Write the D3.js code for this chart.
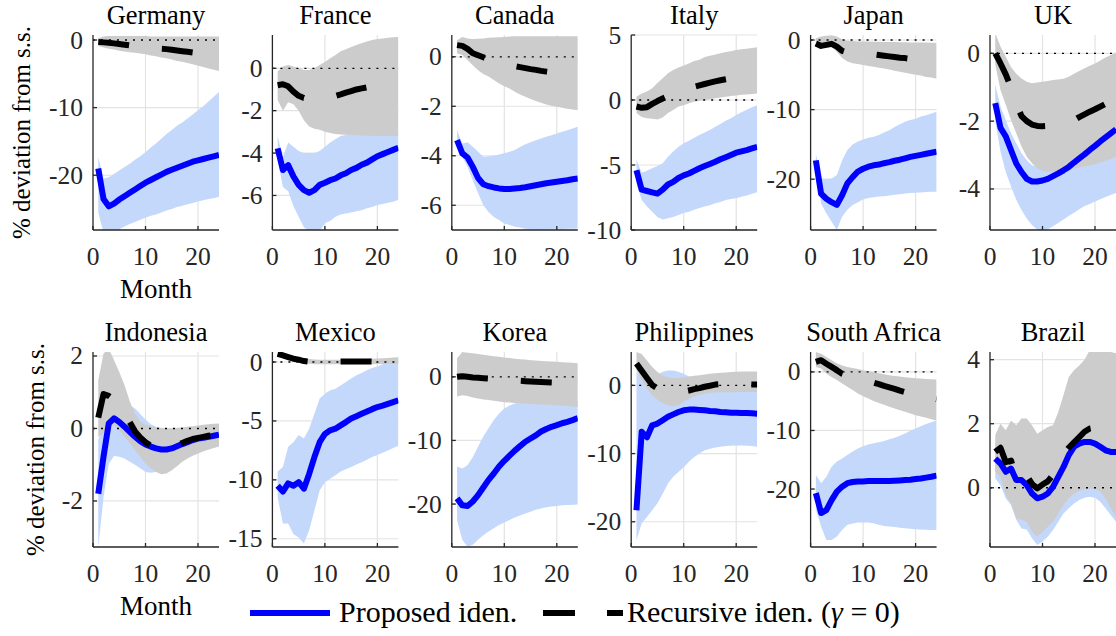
<!DOCTYPE html>
<html>
<head>
<meta charset="utf-8">
<script src="https://cdn.jsdelivr.net/npm/d3@7"></script>
<style>
  html, body { margin: 0; padding: 0; background: #ffffff; }
  svg { display: block; }
</style>
</head>
<body>
<svg id="chart" width="1116" height="636"></svg>
<script>
// Impulse responses (% deviation from steady state), months 1..24
const months = [1,2,3,4,5,6,7,8,9,10,11,12,13,14,15,16,17,18,19,20,21,22,23,24];

const countries = ["Germany", "France", "Canada", "Italy", "Japan", "UK",
                   "Indonesia", "Mexico", "Korea", "Philippines", "South Africa", "Brazil"];

const yLimits = [
  [-28.1, 0.74], [-7.63, 1.57], [-7.0, 0.88], [-10, 5], [-27.3, 0.72], [-5.21, 0.54],
  [-3.27, 2.11], [-15.7, 0.85], [-26.75, 3.9], [-23.7, 4.9], [-29.9, 3.4], [-1.85, 4.24]
];

const yTickValues = [
  [0, -10, -20], [0, -2, -4, -6], [0, -2, -4, -6], [5, 0, -5, -10], [0, -10, -20], [0, -2, -4],
  [2, 0, -2], [0, -5, -10, -15], [0, -10, -20], [0, -10, -20], [0, -10, -20], [4, 2, 0]
];

const xTickValues = [0, 10, 20];

// Proposed identification: point estimate
const proposed = [
  [-19.0,-23.5,-24.6,-24.2,-23.6,-23.1,-22.6,-22.1,-21.6,-21.1,-20.7,-20.3,-19.9,-19.5,-19.2,-18.9,-18.6,-18.3,-18.0,-17.8,-17.6,-17.4,-17.2,-17.0],
  [-3.78,-4.8,-4.57,-5.1,-5.5,-5.75,-5.87,-5.75,-5.5,-5.4,-5.28,-5.2,-5.05,-4.95,-4.8,-4.7,-4.55,-4.45,-4.3,-4.15,-4.05,-3.95,-3.85,-3.75],
  [-3.37,-3.9,-4.07,-4.45,-4.9,-5.15,-5.23,-5.28,-5.32,-5.34,-5.34,-5.32,-5.3,-5.27,-5.23,-5.19,-5.15,-5.11,-5.08,-5.05,-5.02,-4.99,-4.95,-4.92],
  [-5.4,-6.9,-7.0,-7.1,-7.2,-6.9,-6.5,-6.3,-6.0,-5.8,-5.65,-5.45,-5.25,-5.08,-4.92,-4.75,-4.56,-4.4,-4.23,-4.05,-3.95,-3.85,-3.72,-3.6],
  [-17.3,-22.1,-22.8,-23.3,-23.7,-22.3,-20.6,-19.7,-18.9,-18.5,-18.2,-18.0,-17.9,-17.7,-17.55,-17.35,-17.2,-17.0,-16.8,-16.65,-16.5,-16.35,-16.2,-16.05],
  [-1.47,-2.2,-2.45,-2.85,-3.25,-3.5,-3.7,-3.78,-3.78,-3.75,-3.7,-3.62,-3.54,-3.45,-3.35,-3.22,-3.1,-2.98,-2.85,-2.73,-2.6,-2.48,-2.36,-2.24],
  [-1.8,-0.78,0.14,0.28,0.18,0.05,-0.09,-0.23,-0.35,-0.44,-0.5,-0.55,-0.58,-0.58,-0.55,-0.49,-0.43,-0.38,-0.32,-0.28,-0.26,-0.23,-0.2,-0.17],
  [-10.5,-11.0,-10.3,-10.5,-10.2,-10.75,-9.5,-8.07,-6.8,-6.1,-5.8,-5.66,-5.38,-5.1,-4.8,-4.6,-4.4,-4.2,-4.0,-3.82,-3.7,-3.55,-3.4,-3.25],
  [-19.1,-20.2,-20.3,-19.6,-18.6,-17.4,-16.2,-15.2,-14.1,-13.2,-12.4,-11.6,-10.9,-10.2,-9.7,-9.2,-8.6,-8.2,-7.85,-7.6,-7.3,-7.07,-6.8,-6.5],
  [-18.3,-6.8,-7.6,-5.85,-5.6,-5.1,-4.6,-4.25,-3.9,-3.65,-3.55,-3.55,-3.6,-3.65,-3.75,-3.8,-3.9,-3.95,-4.0,-4.02,-4.04,-4.05,-4.1,-4.15],
  [-20.7,-24.1,-23.6,-21.9,-20.45,-19.6,-19.0,-18.8,-18.7,-18.7,-18.64,-18.64,-18.64,-18.64,-18.62,-18.58,-18.53,-18.47,-18.4,-18.3,-18.2,-18.05,-17.9,-17.7],
  [0.91,0.76,0.5,0.6,0.24,0.24,0.08,-0.18,-0.33,-0.28,-0.18,0.03,0.34,0.65,1.02,1.28,1.38,1.43,1.43,1.38,1.28,1.17,1.12,1.12]
];

// Proposed identification: upper band
const proposedHi = [
  [-17.3,-20.5,-20.3,-19.8,-19.3,-18.8,-18.3,-17.7,-17.2,-16.6,-15.9,-15.3,-14.6,-13.9,-13.3,-12.7,-12.2,-11.6,-11.0,-10.4,-9.8,-9.1,-8.4,-7.7],
  [-3.2,-4.2,-3.5,-3.7,-3.9,-4.0,-4.0,-4.0,-3.9,-3.7,-3.5,-3.35,-3.2,-3.15,-3.1,-3.1,-3.1,-3.05,-3.05,-3.0,-3.0,-3.0,-3.0,-3.0],
  [-2.97,-3.5,-3.45,-3.64,-3.84,-4.04,-4.02,-4.0,-3.95,-3.9,-3.84,-3.77,-3.65,-3.53,-3.45,-3.37,-3.3,-3.23,-3.17,-3.1,-3.03,-2.97,-2.9,-2.83],
  [-4.6,-5.6,-5.45,-5.25,-5.08,-4.87,-4.36,-3.97,-3.6,-3.33,-3.13,-2.9,-2.7,-2.5,-2.3,-2.05,-1.85,-1.6,-1.4,-1.15,-0.95,-0.75,-0.55,-0.4],
  [-16.3,-19.9,-20.0,-19.9,-19.4,-17.3,-15.8,-15.0,-14.6,-14.3,-14.05,-13.9,-13.65,-13.3,-12.95,-12.5,-12.1,-11.75,-11.5,-11.3,-11.0,-10.8,-10.55,-10.3],
  [-0.93,-1.57,-1.97,-2.36,-2.65,-2.95,-3.15,-3.3,-3.34,-3.4,-3.35,-3.3,-3.2,-3.1,-2.95,-2.8,-2.65,-2.5,-2.35,-2.2,-2.05,-1.9,-1.75,-1.6],
  [-0.32,0.23,0.78,0.87,0.8,0.72,0.65,0.55,0.4,0.25,0.12,0.05,0.0,0.0,0.0,0.0,0.02,0.03,0.04,0.05,0.06,0.07,0.08,0.08],
  [-9.3,-8.9,-7.2,-6.8,-6.2,-6.5,-5.66,-4.4,-3.1,-2.7,-2.4,-2.26,-2.0,-1.7,-1.4,-1.13,-0.93,-0.7,-0.5,-0.37,-0.2,0.0,0.2,0.4],
  [-14.1,-14.4,-13.9,-12.6,-11.0,-9.4,-8.1,-6.8,-5.76,-5.0,-4.5,-4.2,-4.0,-3.9,-3.8,-3.8,-3.8,-3.8,-3.8,-3.8,-3.8,-3.8,-3.8,-3.8],
  [2.0,1.0,0.8,1.2,1.6,2.0,2.2,2.2,2.0,1.7,1.3,0.9,0.5,0.2,0.0,-0.1,-0.2,-0.2,-0.2,-0.2,-0.2,-0.2,-0.2,-0.2],
  [-17.6,-19.0,-17.9,-16.2,-15.3,-14.8,-14.2,-13.6,-13.1,-12.7,-12.4,-12.2,-12.0,-11.8,-11.5,-11.25,-10.9,-10.5,-10.05,-9.66,-9.26,-8.9,-8.6,-8.24],
  [1.4,1.3,1.1,1.2,0.9,0.9,0.8,0.7,0.5,0.5,0.6,0.8,1.1,1.4,1.7,2.0,2.2,2.3,2.4,2.4,2.3,2.2,2.1,2.0]
];

// Proposed identification: lower band
const proposedLo = [
  [-25.5,-28.5,-28.8,-28.5,-28.0,-27.6,-27.2,-26.9,-26.6,-26.3,-26.0,-25.8,-25.5,-25.2,-25.0,-24.7,-24.5,-24.3,-24.1,-23.9,-23.7,-23.5,-23.4,-23.2],
  [-4.3,-5.6,-5.8,-6.5,-7.0,-7.5,-7.7,-7.8,-7.7,-7.3,-7.2,-7.0,-6.9,-6.85,-6.8,-6.75,-6.7,-6.6,-6.55,-6.45,-6.4,-6.35,-6.3,-6.2],
  [-3.5,-4.04,-4.45,-5.0,-5.5,-6.0,-6.27,-6.47,-6.6,-6.74,-6.8,-6.87,-6.9,-6.95,-6.97,-6.98,-6.98,-6.98,-6.97,-6.97,-6.96,-6.95,-6.95,-6.94],
  [-6.4,-7.7,-8.2,-8.6,-9.0,-9.2,-9.1,-9.0,-8.85,-8.7,-8.6,-8.45,-8.3,-8.2,-8.1,-7.95,-7.85,-7.7,-7.62,-7.55,-7.45,-7.35,-7.22,-7.1],
  [-18.2,-23.5,-24.9,-26.1,-27.3,-25.4,-24.4,-23.7,-23.3,-22.9,-22.7,-22.6,-22.5,-22.45,-22.35,-22.25,-22.15,-22.05,-22.0,-21.95,-21.9,-21.85,-21.82,-21.8],
  [-2.0,-2.9,-3.5,-3.93,-4.32,-4.62,-4.87,-5.06,-5.2,-5.23,-5.19,-5.1,-5.0,-4.9,-4.8,-4.7,-4.6,-4.5,-4.44,-4.37,-4.3,-4.24,-4.18,-4.12],
  [-3.3,-1.9,-0.97,-0.76,-0.78,-0.83,-0.92,-1.0,-1.1,-1.2,-1.22,-1.2,-1.15,-1.1,-1.02,-0.95,-0.87,-0.8,-0.74,-0.68,-0.63,-0.58,-0.54,-0.5],
  [-11.5,-13.7,-13.7,-14.6,-14.9,-15.4,-14.3,-12.6,-10.9,-10.2,-9.9,-9.6,-9.3,-9.1,-8.9,-8.7,-8.5,-8.3,-8.07,-7.9,-7.7,-7.5,-7.3,-7.1],
  [-22.5,-25.6,-26.7,-26.4,-25.6,-24.9,-24.3,-23.8,-23.3,-22.9,-22.5,-22.1,-21.8,-21.5,-21.2,-20.9,-20.7,-20.5,-20.4,-20.3,-20.2,-20.15,-20.1,-20.0],
  [-22.7,-20.2,-19.3,-18.3,-17.3,-15.9,-14.4,-13.4,-12.7,-12.0,-11.2,-10.5,-10.0,-9.5,-9.3,-9.1,-9.0,-8.9,-8.85,-8.8,-8.8,-8.85,-8.9,-9.0],
  [-23.5,-26.4,-28.7,-28.7,-28.1,-27.0,-26.1,-25.9,-25.7,-25.7,-25.7,-25.85,-26.1,-26.3,-26.4,-26.5,-26.6,-26.7,-26.8,-26.85,-26.9,-26.95,-27.0,-27.0],
  [0.29,0.08,-0.33,-0.54,-1.0,-1.27,-1.3,-1.58,-1.79,-1.68,-1.53,-1.32,-1.06,-0.8,-0.64,-0.49,-0.38,-0.31,-0.28,-0.31,-0.44,-0.64,-0.85,-1.06]
];

// Recursive identification (gamma = 0): point estimate
const recursive = [
  [-0.3,-0.35,-0.4,-0.5,-0.6,-0.7,-0.8,-0.9,-1.0,-1.05,-1.1,-1.2,-1.3,-1.35,-1.45,-1.55,-1.65,-1.75,-1.85,-1.95,-2.05,-2.15,-2.25,-2.35],
  [-0.8,-0.75,-0.85,-1.1,-1.3,-1.4,-1.45,-1.45,-1.45,-1.42,-1.38,-1.3,-1.23,-1.15,-1.08,-1.0,-0.95,-0.9,-0.88,-0.85,-0.83,-0.81,-0.8,-0.79],
  [0.47,0.44,0.32,0.14,0.06,-0.02,-0.1,-0.16,-0.22,-0.28,-0.33,-0.38,-0.42,-0.46,-0.5,-0.53,-0.57,-0.6,-0.63,-0.66,-0.69,-0.72,-0.75,-0.78],
  [-0.5,-0.6,-0.55,-0.3,-0.08,0.12,0.3,0.48,0.63,0.77,0.9,1.02,1.13,1.23,1.33,1.43,1.52,1.6,1.67,1.73,1.78,1.83,1.87,1.9],
  [-0.5,-0.85,-0.7,-0.55,-0.95,-1.55,-1.8,-1.85,-1.9,-1.95,-2.0,-2.05,-2.15,-2.25,-2.35,-2.45,-2.55,-2.6,-2.7,-2.8,-2.85,-2.95,-3.0,-3.1],
  [0.0,-0.3,-0.62,-1.0,-1.48,-1.85,-2.0,-2.1,-2.14,-2.15,-2.14,-2.12,-2.08,-2.05,-2.01,-1.97,-1.88,-1.8,-1.72,-1.65,-1.57,-1.49,-1.42,-1.35],
  [0.3,0.95,0.9,0.8,0.65,0.42,0.17,-0.08,-0.25,-0.38,-0.48,-0.55,-0.6,-0.58,-0.52,-0.46,-0.4,-0.34,-0.29,-0.26,-0.23,-0.2,-0.18,-0.16],
  [0.7,0.57,0.42,0.28,0.2,0.08,0.03,0.02,0.02,0.03,0.03,0.04,0.05,0.05,0.05,0.05,0.05,0.05,0.04,0.04,0.03,0.03,0.02,0.02],
  [0.0,0.1,0.0,-0.1,-0.15,-0.22,-0.28,-0.34,-0.4,-0.45,-0.52,-0.58,-0.63,-0.68,-0.73,-0.78,-0.82,-0.86,-0.9,-0.94,-0.98,-1.02,-1.06,-1.1],
  [3.2,2.15,1.1,0.05,-0.45,-0.7,-0.85,-0.95,-0.95,-0.9,-0.75,-0.55,-0.4,-0.2,-0.05,0.12,0.2,0.22,0.22,0.2,0.18,0.16,0.15,0.15],
  [1.7,2.0,1.4,0.85,0.3,-0.3,-0.6,-0.85,-1.1,-1.35,-1.6,-1.85,-2.1,-2.4,-2.65,-2.9,-3.2,-3.45,-3.65,-3.85,-4.05,-4.25,-4.45,-4.65],
  [1.12,1.25,0.8,0.85,0.35,0.55,0.38,0.12,-0.02,0.1,0.2,0.4,0.72,1.05,1.25,1.42,1.58,1.75,1.85,1.88,1.9,1.92,1.93,1.94]
];

// Recursive identification: upper band
const recursiveHi = [
  [0.3,0.5,0.6,0.6,0.6,0.6,0.6,0.6,0.6,0.6,0.5,0.5,0.5,0.5,0.5,0.5,0.5,0.5,0.5,0.5,0.5,0.5,0.5,0.5],
  [-0.15,0.08,0.15,0.08,0.0,-0.08,-0.08,0.0,0.15,0.3,0.47,0.63,0.8,0.9,1.0,1.1,1.18,1.26,1.34,1.38,1.41,1.44,1.46,1.48],
  [0.67,0.8,0.74,0.72,0.73,0.74,0.77,0.78,0.79,0.8,0.82,0.83,0.83,0.83,0.83,0.83,0.83,0.83,0.83,0.83,0.83,0.83,0.83,0.83],
  [0.25,0.5,0.65,0.9,1.3,1.67,2.05,2.3,2.5,2.65,2.8,3.0,3.1,3.3,3.4,3.5,3.6,3.7,3.75,3.85,3.9,3.95,4.0,4.05],
  [0.25,0.5,0.6,0.7,0.5,0.1,-0.1,-0.15,-0.2,-0.2,-0.22,-0.24,-0.26,-0.28,-0.3,-0.3,-0.32,-0.33,-0.34,-0.35,-0.36,-0.37,-0.38,-0.4],
  [0.6,0.2,-0.1,-0.4,-0.6,-0.74,-0.84,-0.88,-0.86,-0.84,-0.82,-0.79,-0.77,-0.75,-0.69,-0.6,-0.52,-0.44,-0.37,-0.3,-0.21,-0.12,-0.05,0.02],
  [1.33,2.07,2.2,1.89,1.56,1.2,0.75,0.4,0.2,0.1,0.06,0.03,0.02,0.0,0.0,0.02,0.03,0.05,0.06,0.08,0.1,0.12,0.13,0.14],
  [0.9,0.8,0.65,0.5,0.4,0.3,0.25,0.22,0.2,0.2,0.2,0.2,0.2,0.2,0.2,0.22,0.24,0.26,0.28,0.3,0.32,0.35,0.38,0.4],
  [2.9,3.9,3.8,3.7,3.6,3.45,3.35,3.25,3.15,3.04,2.94,2.83,2.78,2.72,2.62,2.56,2.5,2.45,2.4,2.35,2.3,2.25,2.2,2.15],
  [4.9,4.6,3.66,2.7,1.95,1.46,1.2,1.07,1.07,1.2,1.3,1.4,1.5,1.6,1.7,1.78,1.85,1.9,1.95,2.0,2.05,2.05,2.05,2.05],
  [3.4,3.1,2.55,2.0,1.5,1.1,0.85,0.68,0.5,0.28,0.1,-0.05,-0.23,-0.4,-0.57,-0.7,-0.8,-0.9,-1.0,-1.07,-1.14,-1.2,-1.25,-1.3],
  [1.65,2.0,1.8,2.1,1.95,2.16,2.16,1.95,1.69,1.8,1.9,1.95,2.37,2.9,3.46,3.67,3.82,4.0,4.3,4.3,4.24,4.24,4.24,4.2]
];

// Recursive identification: lower band
const recursiveLo = [
  [-0.9,-1.1,-1.3,-1.4,-1.6,-1.7,-1.8,-1.9,-2.0,-2.1,-2.3,-2.4,-2.6,-2.7,-2.9,-3.1,-3.2,-3.4,-3.6,-3.8,-4.0,-4.2,-4.4,-4.6],
  [-1.5,-2.0,-1.6,-1.7,-2.0,-2.45,-2.75,-2.85,-2.9,-3.0,-3.05,-3.1,-3.12,-3.14,-3.15,-3.16,-3.17,-3.18,-3.18,-3.19,-3.19,-3.2,-3.2,-3.2],
  [0.13,0.07,-0.13,-0.34,-0.54,-0.7,-0.8,-0.94,-1.08,-1.19,-1.28,-1.41,-1.52,-1.62,-1.71,-1.79,-1.86,-1.93,-1.98,-2.02,-2.06,-2.1,-2.13,-2.16],
  [-1.0,-1.3,-1.4,-1.45,-1.5,-1.35,-1.0,-0.77,-0.5,-0.4,-0.25,-0.13,-0.06,0.0,0.05,0.13,0.2,0.25,0.3,0.35,0.4,0.43,0.47,0.5],
  [-0.7,-1.0,-1.1,-1.0,-1.7,-2.6,-3.1,-3.35,-3.45,-3.6,-3.75,-3.85,-4.0,-4.1,-4.25,-4.4,-4.55,-4.7,-4.85,-5.0,-5.1,-5.3,-5.4,-5.55],
  [-0.34,-1.08,-1.52,-1.97,-2.36,-2.75,-3.05,-3.24,-3.39,-3.46,-3.49,-3.49,-3.47,-3.44,-3.42,-3.4,-3.37,-3.34,-3.31,-3.27,-3.22,-3.17,-3.12,-3.05],
  [-0.23,-0.14,0.05,0.09,-0.05,-0.23,-0.41,-0.6,-0.78,-0.97,-1.1,-1.2,-1.26,-1.24,-1.15,-1.04,-0.92,-0.83,-0.75,-0.69,-0.63,-0.58,-0.53,-0.49],
  [0.5,0.35,0.2,0.08,0.0,-0.1,-0.15,-0.18,-0.2,-0.2,-0.2,-0.2,-0.2,-0.2,-0.2,-0.2,-0.2,-0.18,-0.18,-0.16,-0.16,-0.15,-0.15,-0.14],
  [-3.1,-2.9,-3.0,-3.25,-3.4,-3.55,-3.66,-3.77,-3.87,-4.0,-4.05,-4.1,-4.15,-4.2,-4.25,-4.3,-4.35,-4.4,-4.45,-4.5,-4.55,-4.6,-4.65,-4.7],
  [2.2,0.73,-0.5,-1.46,-2.1,-2.6,-2.9,-3.07,-2.9,-2.44,-1.95,-1.6,-1.37,-1.2,-1.1,-1.05,-1.0,-1.0,-1.0,-1.0,-0.98,-0.98,-0.98,-0.98],
  [0.85,0.57,-0.28,-0.85,-1.4,-2.0,-2.55,-3.1,-3.7,-4.15,-4.55,-4.95,-5.3,-5.6,-5.97,-6.25,-6.53,-6.8,-7.1,-7.4,-7.6,-7.84,-8.07,-8.3],
  [0.5,0.34,-0.23,-0.49,-0.96,-1.0,-1.06,-1.37,-1.53,-1.37,-1.22,-1.06,-0.8,-0.54,-0.33,-0.18,-0.1,-0.04,-0.02,-0.04,-0.12,-0.33,-0.64,-0.9]
];

const legendLabels = ["Proposed iden.", "Recursive iden."];

// ---------------------------------------------------------------------------
const FONT = "'Liberation Serif', 'DejaVu Serif', serif";
const BASE = 25;   // text is set at this size and scaled where a different size is wanted
const svg = d3.select("#chart").attr("font-family", FONT);

const panelW = 126, panelH = 195;
const colX0 = 93, colStep = 179.4;
const rowTops = [35, 352];
const ylabelX = [30, 44];

const colors = {
  blue: "#0000ff",
  blueBand: "#c4d8fb",
  greyBand: "#cccccc",
  grid: "#e3e3e3",
  axis: "#262626"
};

const sizeTick = 25.5, sizeTitle = 26.5, sizeLabel = 25, sizeMonth = 27, sizeLegend = 30;

// place a text at (x, y) with the requested size, optionally rotated
function addText(parent, x, y, size, str, anchor, fill, rotate) {
  const k = size / BASE;
  const g = parent.append("g")
    .attr("transform", `translate(${x},${y})` + (rotate ? ` rotate(${rotate})` : "") + ` scale(${k})`);
  return g.append("text")
    .attr("x", 0).attr("y", 0)
    .attr("font-size", BASE)
    .attr("text-anchor", anchor || "start")
    .attr("fill", fill || "#000")
    .text(str);
}

countries.forEach((name, i) => {
  const row = Math.floor(i / 6), col = i % 6;
  const left = colX0 + col * colStep;
  const top = rowTops[row];

  const x = d3.scaleLinear().domain([0, 24]).range([0, panelW]);
  const y = d3.scaleLinear().domain(yLimits[i]).range([panelH, 0]);

  const g = svg.append("g").attr("transform", `translate(${left},${top})`);

  const clipId = "clip" + i;
  g.append("clipPath").attr("id", clipId)
    .append("rect").attr("x", 0).attr("y", 0).attr("width", panelW).attr("height", panelH);

  // grid
  const grid = g.append("g");
  grid.selectAll("line.gx").data(xTickValues.filter(v => v > 0)).join("line")
    .attr("x1", d => x(d)).attr("x2", d => x(d))
    .attr("y1", 0).attr("y2", panelH)
    .attr("stroke", colors.grid).attr("stroke-width", 1.2);
  grid.selectAll("line.gy").data(yTickValues[i]).join("line")
    .attr("x1", 0).attr("x2", panelW)
    .attr("y1", d => y(d)).attr("y2", d => y(d))
    .attr("stroke", colors.grid).attr("stroke-width", 1.2);

  const plot = g.append("g").attr("clip-path", `url(#${clipId})`);

  const pts = (arr) => months.map((m, k) => [m, arr[k]]);
  const band = (lo, hi) => months.map((m, k) => ({ m, lo: lo[k], hi: hi[k] }));

  const area = d3.area().x(d => x(d.m)).y0(d => y(d.lo)).y1(d => y(d.hi));
  const line = d3.line().x(d => x(d[0])).y(d => y(d[1]));

  // confidence bands
  plot.append("path").datum(band(proposedLo[i], proposedHi[i]))
    .attr("d", area).attr("fill", colors.blueBand);
  plot.append("path").datum(band(recursiveLo[i], recursiveHi[i]))
    .attr("d", area).attr("fill", colors.greyBand);

  // zero reference
  plot.append("line")
    .attr("x1", x(0)).attr("x2", x(24)).attr("y1", y(0)).attr("y2", y(0))
    .attr("stroke", "#000").attr("stroke-width", 1.3)
    .attr("stroke-dasharray", "2,6");

  // point estimates
  plot.append("path").datum(pts(proposed[i]))
    .attr("d", line).attr("fill", "none")
    .attr("stroke", colors.blue).attr("stroke-width", 6)
    .attr("stroke-linejoin", "round");
  plot.append("path").datum(pts(recursive[i]))
    .attr("d", line).attr("fill", "none")
    .attr("stroke", "#000").attr("stroke-width", 6)
    .attr("stroke-linejoin", "round")
    .attr("stroke-dasharray", "31,33");

  // axis lines
  g.append("line").attr("x1", 0).attr("x2", 0).attr("y1", 0).attr("y2", panelH)
    .attr("stroke", colors.axis).attr("stroke-width", 1.3);
  g.append("line").attr("x1", 0).attr("x2", panelW).attr("y1", panelH).attr("y2", panelH)
    .attr("stroke", colors.axis).attr("stroke-width", 1.3);

  // inward ticks
  g.selectAll("line.ty").data(yTickValues[i]).join("line")
    .attr("x1", 0).attr("x2", 4).attr("y1", d => y(d)).attr("y2", d => y(d))
    .attr("stroke", colors.axis).attr("stroke-width", 1.3);
  g.selectAll("line.tx").data(xTickValues).join("line")
    .attr("x1", d => x(d)).attr("x2", d => x(d)).attr("y1", panelH).attr("y2", panelH - 4)
    .attr("stroke", colors.axis).attr("stroke-width", 1.3);

  // tick labels
  yTickValues[i].forEach(v => addText(g, -10, y(v) + 8.5, sizeTick, String(v), "end", colors.axis));
  xTickValues.forEach(v => addText(g, x(v), panelH + 35, sizeTick, String(v), "middle", colors.axis));

  // panel title
  addText(g, panelW / 2, -11.5, sizeTitle, name, "middle", "#000");

  if (col === 0) {
    addText(g, panelW / 2, panelH + 67.5, sizeMonth, "Month", "middle", "#000");
    addText(svg, ylabelX[row], top + panelH / 2, sizeLabel, "% deviation from s.s.", "middle", "#000", -90);
  }
});

// legend
const leg = svg.append("g");
leg.append("line").attr("x1", 250).attr("x2", 330).attr("y1", 613).attr("y2", 613)
  .attr("stroke", colors.blue).attr("stroke-width", 6);
addText(leg, 339, 622, sizeLegend, legendLabels[0], "start", "#000");
leg.append("line").attr("x1", 543).attr("x2", 623).attr("y1", 613).attr("y2", 613)
  .attr("stroke", "#000").attr("stroke-width", 6).attr("stroke-dasharray", "32,32");
const t2 = addText(leg, 627, 622, sizeLegend, "", "start", "#000");
t2.append("tspan").text(legendLabels[1] + " (");
t2.append("tspan").attr("font-style", "italic").text("γ");
t2.append("tspan").text(" = 0)");
</script>
</body>
</html>
